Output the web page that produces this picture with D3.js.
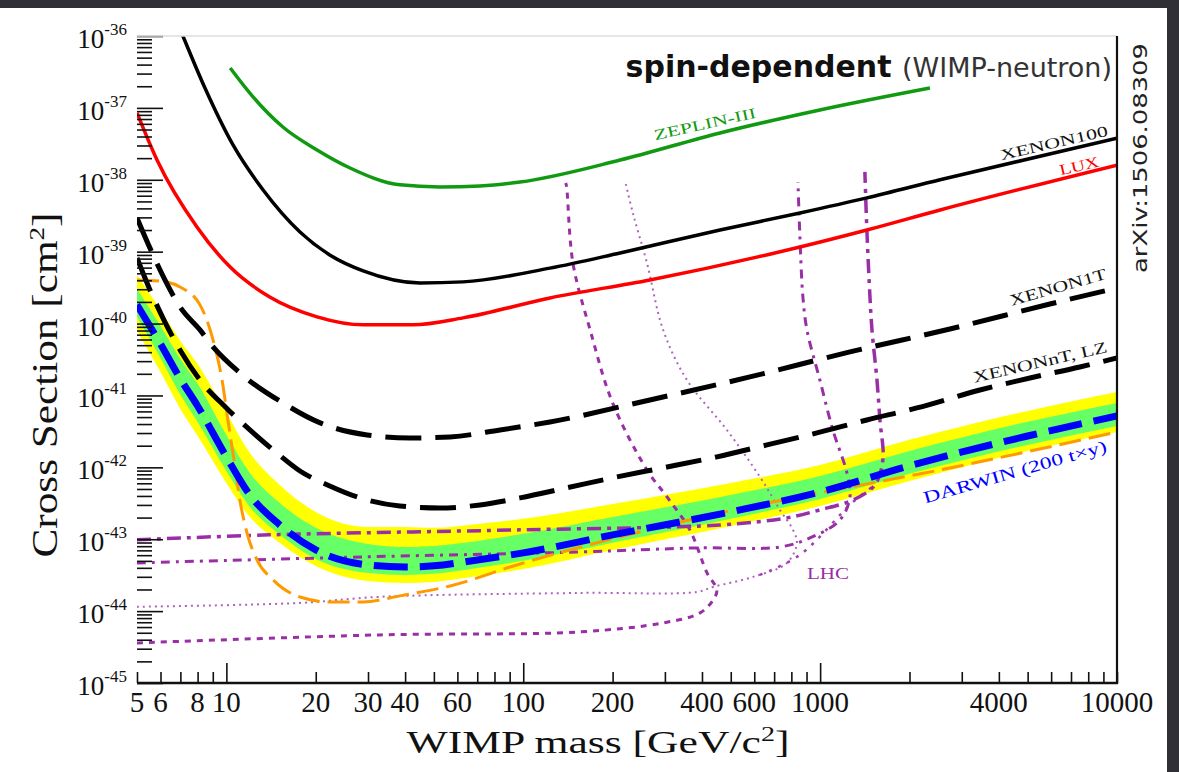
<!DOCTYPE html>
<html><head><meta charset="utf-8">
<script src="https://cdn.jsdelivr.net/npm/d3@7"></script>
<style>html,body{margin:0;padding:0;background:#2f2f35;overflow:hidden;}</style>
</head><body>
<svg id="chart" width="1179" height="772"></svg>
<script>
// ---------------- data (WIMP mass in GeV/c^2, cross section in cm^2) ----------------
const xTickValues = [5,6,8,10,20,30,40,60,100,200,400,600,1000,4000,10000];
const yTickExponents = [-36,-37,-38,-39,-40,-41,-42,-43,-44,-45];

const zeplinMass  = [10.3, 12.3, 15.5, 20.2, 26.1, 38.4, 52.4, 71.5, 97.5, 212, 460, 998, 2344];
const zeplinSigma = [3.59e-37, 1.42e-37, 5.42e-38, 2.6e-38, 1.46e-38, 8.5e-39, 7.94e-39, 8.2e-39, 9.3e-39, 1.88e-38, 4.48e-38, 9.35e-38, 1.89e-37];

const xenon100Mass  = [6.87, 7.14, 8.47, 10.53, 13.3, 17.7, 22.3, 28.9, 44.9, 62.7, 123, 212, 460, 855, 1437, 2535, 10000];
const xenon100Sigma = [1.47e-36, 1.0e-36, 1.89e-37, 3.05e-38, 7.21e-39, 1.88e-39, 9.0e-40, 5.4e-40, 3.67e-40, 3.8e-40, 5.9e-40, 9.6e-40, 2.0e-39, 3.45e-39, 5.6e-39, 1.0e-38, 3.8e-38];

const luxMass  = [5, 5.84, 7.96, 10.3, 14.0, 20.2, 28.9, 42.5, 62.7, 123, 267, 855, 1437, 2535, 10000];
const luxSigma = [8.5e-38, 1.88e-38, 2.2e-39, 6.1e-40, 2.34e-40, 1.24e-40, 9.6e-41, 9.6e-41, 1.2e-40, 2.27e-40, 4.04e-40, 1.16e-39, 2.0e-39, 3.8e-39, 1.6e-38];

const xenon1tMass  = [5, 5.53, 6.21, 6.98, 8.15, 9.02, 11.1, 15.5, 20.7, 29.8, 41.5, 56.7, 83.5, 123, 267, 580, 1260, 2736, 5943, 10000];
const xenon1tSigma = [2.94e-39, 1.12e-39, 4.04e-40, 1.7e-40, 8.15e-41, 4.73e-41, 2.06e-41, 7.87e-42, 4.15e-42, 2.82e-42, 2.56e-42, 2.65e-42, 3.31e-42, 4.28e-42, 8.65e-42, 1.81e-41, 4.03e-41, 8.4e-41, 1.87e-40, 3.13e-40];

const xenonntMass  = [5, 5.53, 6.21, 6.98, 8.15, 10, 12, 14.8, 17.7, 22.3, 28.9, 38.4, 52.4, 71.5, 97.5, 140, 207, 305, 449, 662, 976, 1437, 2118, 3453, 5089, 7499, 10000];
const xenonntSigma = [8.17e-40, 2.93e-40, 1.05e-40, 4.3e-41, 1.64e-41, 6.7e-42, 3.31e-42, 1.58e-42, 8.9e-43, 5.51e-43, 3.64e-43, 2.9e-43, 2.72e-43, 3.0e-43, 3.76e-43, 5.18e-43, 7.36e-43, 1.01e-42, 1.4e-42, 2.05e-42, 3.01e-42, 4.56e-42, 6.7e-42, 1.19e-41, 1.75e-41, 2.49e-41, 3.33e-41];

const darwinMass      = [5, 6, 7, 8, 10, 12, 15, 20, 30, 40, 50, 70, 100, 200, 500, 1000, 2000, 5000, 10000];
const darwinMedian    = [1.82e-40, 5.2e-41, 1.7e-41, 7.14e-42, 1.4e-42, 4.13e-43, 1.63e-43, 7.1e-44, 4.39e-44, 4.12e-44, 4.26e-44, 5.15e-44, 6.45e-44, 1.15e-43, 2.4e-43, 4.55e-43, 1.05e-42, 2.73e-42, 5.19e-42];
const darwin2sigmaUp  = [4.74e-40, 1.55e-40, 5.73e-41, 2.74e-41, 5.71e-42, 1.58e-42, 5.87e-43, 2.39e-43, 1.48e-43, 1.48e-43, 1.44e-43, 1.63e-43, 1.92e-43, 3.1e-43, 6.07e-43, 1.08e-42, 2.41e-42, 6.1e-42, 1.12e-41];
const darwin1sigmaUp  = [3.03e-40, 9.25e-41, 3.22e-41, 1.45e-41, 2.82e-42, 8.36e-43, 3.3e-43, 1.44e-43, 8.6e-44, 7.8e-44, 8.07e-44, 9.46e-44, 1.19e-43, 2.04e-43, 4.13e-43, 7.6e-43, 1.69e-42, 4.29e-42, 7.87e-42];
const darwin1sigmaDn  = [1.24e-40, 3.32e-41, 1.02e-41, 4.28e-42, 8.91e-43, 2.81e-43, 1.19e-43, 5.32e-44, 3.4e-44, 3.19e-44, 3.3e-44, 3.99e-44, 5.0e-44, 8.9e-44, 1.92e-43, 3.64e-43, 8.11e-43, 2.05e-42, 3.77e-42];
const darwin2sigmaDn  = [7.89e-41, 2.12e-41, 6.5e-42, 2.74e-42, 6.07e-43, 2.04e-43, 9.18e-44, 4.25e-44, 2.63e-44, 2.47e-44, 2.55e-44, 3.08e-44, 3.86e-44, 7.1e-44, 1.53e-43, 2.9e-43, 6.47e-43, 1.69e-42, 3.1e-42];

const orangeMass  = [5, 5.97, 6.98, 8.15, 9.02, 9.67, 10.12, 10.61, 11.1, 11.74, 12.68, 14.36, 17.7, 22.3, 28.9, 38.4, 56.7, 97.5, 212, 460, 998, 2535, 10000];
const orangeSigma = [4.04e-40, 3.91e-40, 3.23e-40, 1.82e-40, 5.9e-41, 1.64e-41, 4.56e-42, 1.27e-42, 3.52e-43, 1.22e-43, 5.15e-44, 2.72e-44, 1.57e-44, 1.34e-44, 1.34e-44, 1.63e-44, 2.24e-44, 4.53e-44, 1.08e-43, 2.32e-43, 4.41e-43, 9.2e-43, 3.1e-42];

const lhcAMass  = [5, 14.0, 97.5, 460, 773, 998, 1290, 1530, 1627, 1590, 1554, 1495, 1472, 1437, 1415];
const lhcASigma = [9.8e-44, 1.15e-43, 1.35e-43, 1.58e-43, 1.98e-43, 2.56e-43, 3.52e-43, 5.7e-43, 1.27e-42, 4.56e-42, 1.64e-41, 8.15e-41, 2.34e-40, 2.0e-39, 1.29e-38];
const lhcBMass  = [5, 28.9, 155, 385, 732, 924, 1166, 1260, 1231, 1104, 998, 903, 875, 855, 842];
const lhcBSigma = [4.68e-44, 5.68e-44, 6.65e-44, 7.57e-44, 7.8e-44, 1.04e-43, 1.85e-43, 3.87e-43, 8.36e-43, 3.31e-42, 1.64e-41, 8.15e-41, 2.34e-40, 1.6e-39, 9.3e-39];
const lhcCMass  = [5, 17.7, 32.9, 155, 385, 436, 594, 773, 835, 810, 732, 627, 485, 356, 296, 261, 234, 220];
const lhcCSigma = [1.15e-44, 1.3e-44, 1.58e-44, 1.79e-44, 1.85e-44, 2.17e-44, 2.99e-44, 4.68e-44, 8.9e-44, 1.35e-43, 2.56e-43, 7.36e-43, 3.31e-42, 1.64e-41, 8.15e-41, 6.97e-40, 3.45e-39, 9.93e-39];
const lhcDMass  = [5, 32.9, 155, 296, 394, 436, 449, 416, 364, 305, 261, 200, 168, 147, 140, 139];
const lhcDSigma = [3.61e-45, 4.67e-45, 5.14e-45, 6.86e-45, 9.44e-45, 1.43e-44, 1.97e-44, 3.4e-44, 1.35e-43, 3.87e-43, 9.2e-43, 7.87e-42, 8.15e-41, 6.97e-40, 7.94e-39, 9.0e-39];
const lhcEMass  = [627, 855, 1290, 1530];
const lhcESigma = [3.19e-44, 6.05e-44, 3.3e-43, 5.7e-43];

// ---------------- drawing ----------------
const W = 1179, H = 772;
const L = 137, R = 1117, T = 36, B = 683;
const svg = d3.select('#chart');
svg.append('rect').attr('width', W).attr('height', H).attr('fill', '#2f2f35');
svg.append('rect').attr('x', 0).attr('y', 8).attr('width', 1167).attr('height', H - 8).attr('fill', '#ffffff');

const x = d3.scaleLog().domain([5, 10000]).range([L, R]);
const y = d3.scaleLog().domain([1e-45, 1e-36]).range([B, T]);

svg.append('defs').append('clipPath').attr('id', 'clip')
  .append('rect').attr('x', L).attr('y', T).attr('width', R - L).attr('height', B - T);
const g = svg.append('g').attr('clip-path', 'url(#clip)');

const zip = (m, s) => m.map((v, i) => [v, s[i]]);
const band = (lo, hi) => darwinMass.map((m, i) => ({ m, lo: lo[i], hi: hi[i] }));
const area = d3.area().x(d => x(d.m)).y0(d => y(d.lo)).y1(d => y(d.hi)).curve(d3.curveMonotoneX);
const lineX = d3.line().x(d => x(d[0])).y(d => y(d[1])).curve(d3.curveMonotoneX);
const lineC = d3.line().x(d => x(d[0])).y(d => y(d[1])).curve(d3.curveCatmullRom.alpha(0.5));

// DARWIN bands
g.append('path').attr('d', area(band(darwin2sigmaDn, darwin2sigmaUp))).attr('fill', '#ffff00');
g.append('path').attr('d', area(band(darwin1sigmaDn, darwin1sigmaUp))).attr('fill', '#66ff66');

// LHC curves
const purple = '#9a2ea6';
g.append('path').attr('d', lineC(zip(lhcDMass, lhcDSigma))).attr('fill', 'none')
  .attr('stroke', purple).attr('stroke-width', 3).attr('stroke-dasharray', '6,6');
g.append('path').attr('d', lineC(zip(lhcCMass, lhcCSigma))).attr('fill', 'none')
  .attr('stroke', '#b060c0').attr('stroke-width', 2).attr('stroke-dasharray', '2,4');
g.append('path').attr('d', lineC(zip(lhcEMass, lhcESigma))).attr('fill', 'none')
  .attr('stroke', '#a040b0').attr('stroke-width', 2.5).attr('stroke-dasharray', '3,7');
g.append('path').attr('d', lineC(zip(lhcBMass, lhcBSigma))).attr('fill', 'none')
  .attr('stroke', purple).attr('stroke-width', 3).attr('stroke-dasharray', '9,6,3,6');
g.append('path').attr('d', lineC(zip(lhcAMass, lhcASigma))).attr('fill', 'none')
  .attr('stroke', purple).attr('stroke-width', 3.5).attr('stroke-dasharray', '14,6,4,6');

// orange dashed
g.append('path').attr('d', lineX(zip(orangeMass, orangeSigma))).attr('fill', 'none')
  .attr('stroke', '#ff9900').attr('stroke-width', 3).attr('stroke-dasharray', '22,8');

// DARWIN median
g.append('path').attr('d', lineX(zip(darwinMass, darwinMedian))).attr('fill', 'none')
  .attr('stroke', '#0000ff').attr('stroke-width', 7).attr('stroke-dasharray', '34,12');

// XENON1T / XENONnT
g.append('path').attr('d', lineX(zip(xenon1tMass, xenon1tSigma))).attr('fill', 'none')
  .attr('stroke', '#000').attr('stroke-width', 5).attr('stroke-dasharray', '36,14');
g.append('path').attr('d', lineX(zip(xenonntMass, xenonntSigma))).attr('fill', 'none')
  .attr('stroke', '#000').attr('stroke-width', 5).attr('stroke-dasharray', '36,14');

// solid lines
g.append('path').attr('d', lineX(zip(zeplinMass, zeplinSigma))).attr('fill', 'none')
  .attr('stroke', '#119a11').attr('stroke-width', 3.5);
g.append('path').attr('d', lineX(zip(luxMass, luxSigma))).attr('fill', 'none')
  .attr('stroke', '#ff0000').attr('stroke-width', 3.5);
g.append('path').attr('d', lineX(zip(xenon100Mass, xenon100Sigma))).attr('fill', 'none')
  .attr('stroke', '#000').attr('stroke-width', 3.5);

// ---------------- axes ----------------
const xMinor = [], xMajor = [10, 100, 1000];
[1, 10, 100, 1000].forEach(dec => { for (let k = 1; k <= 9; k++) { const v = k * dec; if (v >= 5 && v <= 10000 && !xMajor.includes(v)) xMinor.push(v); } });
xMinor.push(10000);
const ax1 = svg.append('g').attr('transform', `translate(0,${B})`)
  .call(d3.axisBottom(x).tickValues(xMinor).tickSize(-11).tickFormat(''));
const ax2 = svg.append('g').attr('transform', `translate(0,${B})`)
  .call(d3.axisBottom(x).tickValues(xMajor).tickSize(-20).tickFormat(''));

const yMinor = [];
for (let e = -45; e < -36; e++) for (let k = 2; k <= 9; k++) yMinor.push(k * Math.pow(10, e));
const ay1 = svg.append('g').attr('transform', `translate(${L},0)`)
  .call(d3.axisLeft(y).tickValues(yMinor).tickSize(-15).tickFormat(''));
const ay2 = svg.append('g').attr('transform', `translate(${L},0)`)
  .call(d3.axisLeft(y).tickValues(yTickExponents.map(e => Math.pow(10, e))).tickSize(-26).tickFormat(''));
[ax1, ax2, ay1, ay2].forEach(a => { a.select('.domain').remove(); a.selectAll('line').attr('stroke', '#111').attr('stroke-width', 1.6); });

// frame
svg.append('line').attr('x1', L).attr('x2', R).attr('y1', T).attr('y2', T).attr('stroke', '#dcdcdc').attr('stroke-width', 1.5);
svg.append('line').attr('x1', R).attr('x2', R).attr('y1', T).attr('y2', B + 1).attr('stroke', '#111').attr('stroke-width', 2.2);
svg.append('line').attr('x1', L).attr('x2', R + 1).attr('y1', B).attr('y2', B).attr('stroke', '#111').attr('stroke-width', 2.6);

// tick labels
const serif = '"Liberation Serif", "Times New Roman", serif';
svg.append('g').selectAll('text').data(xTickValues).join('text')
  .attr('x', d => x(d)).attr('y', 712).attr('text-anchor', 'middle')
  .attr('font-family', serif).attr('font-size', 29).attr('fill', '#111').text(d => d);

const yl = svg.append('g').selectAll('text').data(yTickExponents).join('text')
  .attr('x', 127).attr('y', d => y(Math.pow(10, d)) + 12).attr('text-anchor', 'end')
  .attr('font-family', serif).attr('font-size', 27).attr('fill', '#111');
yl.append('tspan').text('10');
yl.append('tspan').attr('dy', -13).attr('font-size', 17).text(d => String(d));

// axis titles
const xt = svg.append('text').attr('x', 598).attr('y', 753).attr('text-anchor', 'middle')
  .attr('font-family', serif).attr('font-size', 31).attr('fill', '#111')
  .attr('textLength', 383).attr('lengthAdjust', 'spacingAndGlyphs');
xt.append('tspan').text('WIMP mass [GeV/c');
xt.append('tspan').attr('dy', -12).attr('font-size', 20).text('2');
xt.append('tspan').attr('dy', 12).text(']');

const yt = svg.append('text').attr('transform', 'translate(57,385) rotate(-90)').attr('text-anchor', 'middle')
  .attr('font-family', serif).attr('font-size', 35).attr('fill', '#111')
  .attr('textLength', 345).attr('lengthAdjust', 'spacingAndGlyphs');
yt.append('tspan').text('Cross Section [cm');
yt.append('tspan').attr('dy', -13).attr('font-size', 22).text('2');
yt.append('tspan').attr('dy', 13).text(']');

// title
const tt = svg.append('text').attr('x', 1112).attr('y', 77).attr('text-anchor', 'end')
  .attr('font-family', '"DejaVu Sans", sans-serif').attr('fill', '#111');
tt.append('tspan').attr('font-size', 30).attr('font-weight', 'bold').text('spin-dependent ');
tt.append('tspan').attr('font-size', 27).attr('fill', '#333').text('(WIMP-neutron)');

// arXiv
svg.append('text').attr('transform', 'translate(1147,158) rotate(-90)').attr('text-anchor', 'middle')
  .attr('font-family', '"DejaVu Sans", sans-serif').attr('font-size', 19).attr('fill', '#222')
  .attr('textLength', 230).attr('lengthAdjust', 'spacingAndGlyphs').text('arXiv:1506.08309');

// curve labels
const labels = [
  { t: 'ZEPLIN-III', x: 705, y: 124, a: -12.5, c: '#119a11', len: 104, fs: 15 },
  { t: 'XENON100', x: 1054, y: 143, a: -13, c: '#111', len: 110, fs: 15 },
  { t: 'LUX', x: 1079, y: 166, a: -13, c: '#ff0000', len: 40, fs: 15 },
  { t: 'XENON1T', x: 1058, y: 287, a: -16, c: '#111', len: 100, fs: 16 },
  { t: 'XENONnT, LZ', x: 1040, y: 362, a: -13, c: '#111', len: 137, fs: 16 },
  { t: 'DARWIN (200 t\u00d7y)', x: 1015, y: 472, a: -16, c: '#0000ff', len: 190, fs: 17 },
  { t: 'LHC', x: 828, y: 573, a: 0, c: purple, len: 42, fs: 16 }
];
svg.append('g').selectAll('text').data(labels).join('text')
  .attr('transform', d => `translate(${d.x},${d.y}) rotate(${d.a})`)
  .attr('text-anchor', 'middle').attr('dominant-baseline', 'central')
  .attr('font-family', serif).attr('font-size', d => d.fs).attr('fill', d => d.c)
  .attr('textLength', d => d.len).attr('lengthAdjust', 'spacingAndGlyphs').text(d => d.t);
</script>
</body></html>
